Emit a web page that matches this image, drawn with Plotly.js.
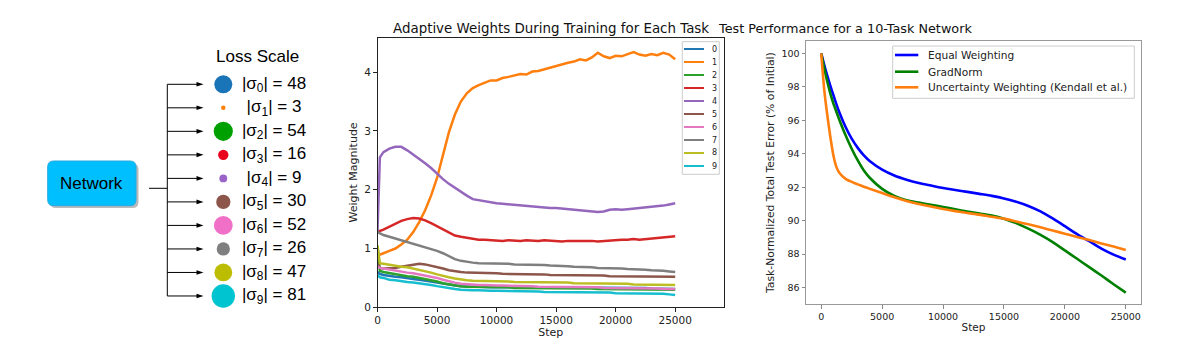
<!DOCTYPE html>
<html><head><meta charset="utf-8">
<script src="https://cdn.plot.ly/plotly-3.0.1.min.js"></script>
<style>html,body{margin:0;padding:0;background:#fff;}#chart{width:1204px;height:354px;}</style>
</head><body><div id="chart"></div>
<script>
// ---------- Left diagram data ----------
const taskIds = [0,1,2,3,4,5,6,7,8,9];
const lossScales = [48,3,54,16,9,30,52,26,47,81];
const taskColors = ['#1f77b4','#ff7f0e','#2ca02c','#d62728','#9467bd','#8c564b','#e377c2','#7f7f7f','#bcbd22','#17becf'];
const diagramColors = ['#1a74b8','#ff7f0e','#00a000','#e8001c','#9a63c8','#8c564b','#f070c8','#7f7f7f','#bcbd00','#00c4d0'];
const networkLabel = 'Network';
const lossScaleTitle = 'Loss Scale';

// ---------- Middle chart data ----------
const weightSteps = [0,200,500,1000,1500,2000,2500,3000,3500,4000,4500,5000,5500,6000,6500,7000,7500,8000,8500,9000,9500,10000,10500,11000,11500,12000,12500,13000,13500,14000,14500,15000,15500,16000,16500,17000,17500,18000,18500,19000,19500,20000,20500,21000,21500,22000,22500,23000,23500,24000,24500,25000];
const weight0 = [0.60,0.57,0.55,0.53,0.52,0.51,0.49,0.48,0.47,0.46,0.44,0.42,0.40,0.39,0.37,0.36,0.35,0.35,0.35,0.34,0.34,0.34,0.34,0.34,0.34,0.34,0.34,0.33,0.33,0.33,0.33,0.33,0.33,0.33,0.33,0.33,0.33,0.33,0.33,0.33,0.33,0.33,0.33,0.33,0.33,0.33,0.33,0.32,0.32,0.32,0.31,0.31];
const weight1 = [0.88,0.90,0.92,0.96,1.00,1.07,1.15,1.28,1.45,1.65,1.90,2.20,2.60,2.98,3.28,3.50,3.64,3.73,3.78,3.82,3.86,3.86,3.90,3.92,3.95,3.97,3.96,4.01,4.02,4.05,4.08,4.10,4.14,4.16,4.18,4.22,4.20,4.25,4.33,4.27,4.24,4.28,4.27,4.30,4.34,4.30,4.28,4.31,4.29,4.33,4.30,4.22];
const weight2 = [1.05,0.62,0.60,0.58,0.57,0.55,0.53,0.52,0.50,0.49,0.46,0.44,0.41,0.39,0.37,0.36,0.35,0.35,0.35,0.34,0.34,0.34,0.34,0.34,0.33,0.33,0.33,0.33,0.33,0.33,0.33,0.32,0.32,0.32,0.32,0.32,0.32,0.32,0.31,0.31,0.31,0.31,0.31,0.31,0.31,0.31,0.30,0.30,0.30,0.30,0.30,0.30];
const weight3 = [1.30,1.30,1.32,1.37,1.42,1.47,1.50,1.52,1.51,1.48,1.43,1.38,1.32,1.27,1.22,1.20,1.18,1.16,1.15,1.15,1.14,1.14,1.13,1.14,1.13,1.13,1.14,1.13,1.13,1.14,1.13,1.13,1.12,1.13,1.13,1.14,1.13,1.13,1.12,1.13,1.14,1.14,1.15,1.15,1.16,1.15,1.16,1.17,1.18,1.19,1.20,1.21];
const weight4 = [1.30,2.55,2.64,2.70,2.73,2.73,2.67,2.60,2.53,2.45,2.37,2.27,2.18,2.10,2.03,1.96,1.90,1.84,1.82,1.80,1.79,1.77,1.76,1.75,1.74,1.73,1.72,1.71,1.71,1.70,1.69,1.69,1.68,1.67,1.67,1.66,1.65,1.64,1.62,1.63,1.66,1.67,1.66,1.67,1.68,1.68,1.70,1.70,1.72,1.73,1.75,1.77];
const weight5 = [0.75,0.67,0.66,0.66,0.67,0.69,0.71,0.73,0.74,0.73,0.71,0.68,0.66,0.63,0.61,0.60,0.59,0.59,0.58,0.58,0.58,0.58,0.57,0.57,0.57,0.57,0.56,0.56,0.56,0.56,0.55,0.55,0.55,0.55,0.55,0.54,0.54,0.54,0.54,0.54,0.53,0.53,0.53,0.53,0.53,0.53,0.52,0.52,0.52,0.52,0.52,0.52];
const weight6 = [0.70,0.67,0.66,0.64,0.62,0.61,0.59,0.58,0.56,0.55,0.52,0.50,0.47,0.44,0.42,0.40,0.39,0.38,0.38,0.38,0.37,0.37,0.37,0.37,0.36,0.36,0.36,0.36,0.35,0.35,0.35,0.35,0.35,0.34,0.34,0.34,0.34,0.34,0.34,0.33,0.33,0.33,0.33,0.33,0.32,0.32,0.32,0.32,0.32,0.31,0.31,0.31];
const weight7 = [1.28,1.26,1.23,1.20,1.17,1.14,1.11,1.09,1.06,1.03,1.00,0.96,0.92,0.87,0.82,0.79,0.77,0.76,0.75,0.75,0.74,0.74,0.74,0.74,0.73,0.73,0.73,0.73,0.72,0.72,0.71,0.71,0.70,0.70,0.69,0.69,0.68,0.68,0.67,0.67,0.66,0.66,0.66,0.65,0.65,0.64,0.64,0.63,0.63,0.62,0.61,0.60];
const weight8 = [1.05,0.75,0.74,0.72,0.71,0.69,0.68,0.66,0.64,0.62,0.59,0.56,0.53,0.51,0.49,0.47,0.46,0.45,0.45,0.45,0.44,0.44,0.44,0.44,0.43,0.43,0.43,0.43,0.43,0.42,0.42,0.42,0.42,0.42,0.41,0.41,0.41,0.41,0.41,0.40,0.40,0.40,0.40,0.40,0.39,0.39,0.39,0.39,0.38,0.38,0.38,0.38];
const weight9 = [0.55,0.51,0.50,0.47,0.46,0.44,0.43,0.42,0.41,0.40,0.38,0.36,0.34,0.32,0.31,0.30,0.29,0.29,0.29,0.28,0.28,0.28,0.28,0.28,0.27,0.27,0.27,0.27,0.27,0.26,0.26,0.26,0.26,0.26,0.26,0.26,0.25,0.25,0.25,0.25,0.25,0.24,0.24,0.24,0.24,0.24,0.24,0.23,0.23,0.23,0.22,0.21];
const weightSeries = [weight0,weight1,weight2,weight3,weight4,weight5,weight6,weight7,weight8,weight9];
const taskNames = ['0','1','2','3','4','5','6','7','8','9'];
const weightTicksX = [0,5000,10000,15000,20000,25000];
const weightTicksY = [0,1,2,3,4];

// ---------- Right chart data ----------
const perfSteps = [0,250,500,750,1000,1250,1500,2000,2500,3000,3500,4000,5000,6000,7000,8000,9000,10000,11000,12000,13000,14000,15000,16000,17000,18000,19000,20000,21000,22000,23000,24000,25000];
const equalWeighting = [100,99.3,98.65,98.05,97.5,96.95,96.45,95.6,94.9,94.35,93.9,93.55,93.05,92.7,92.45,92.25,92.1,91.95,91.83,91.72,91.6,91.48,91.33,91.13,90.88,90.55,90.13,89.67,89.2,88.77,88.33,87.97,87.68];
const gradNorm = [100,99.1,98.3,97.6,97.0,96.5,96.0,95.1,94.3,93.6,93.0,92.55,91.9,91.48,91.22,91.08,90.95,90.82,90.68,90.54,90.42,90.3,90.12,89.85,89.52,89.15,88.72,88.22,87.72,87.22,86.72,86.2,85.7];
const uncertaintyWeighting = [100,97.8,96.3,95.0,93.9,93.2,92.85,92.5,92.32,92.17,92.03,91.9,91.65,91.4,91.18,91.0,90.85,90.7,90.57,90.46,90.36,90.23,90.12,89.95,89.78,89.6,89.41,89.22,89.03,88.84,88.64,88.45,88.24];
const perfNames = ['Equal Weighting','GradNorm','Uncertainty Weighting (Kendall et al.)'];
const perfColors = ['#0000ff','#008000','#ff7f0e'];
const perfSeries = [equalWeighting, gradNorm, uncertaintyWeighting];
const perfTicksX = [0,5000,10000,15000,20000,25000];
const perfTicksY = [86,88,90,92,94,96,98,100];

// ---------- layout helpers (pixel geometry -> paper) ----------
const W = 1204, H = 354;
const px = x => x / W;
const py = y => 1 - y / H;
const FONT = 'DejaVu Sans, sans-serif';
const ARIAL = 'Liberation Sans, Arial, sans-serif';
// diagram axis: x in pixel-like units, y in row units
const ROW0 = 84.3, ROWSTEP = 23.52;
const ry = y => (y - ROW0) / ROWSTEP;

const traces = [];
// middle chart
weightSeries.forEach((s, i) => {
  traces.push({x: weightSteps, y: s, type: 'scatter', mode: 'lines', name: taskNames[i],
    line: {color: taskColors[i], width: 2.5}, xaxis: 'x', yaxis: 'y', showlegend: false, hoverinfo: 'skip'});
});
// right chart
perfSeries.forEach((s, i) => {
  traces.push({x: perfSteps, y: s, type: 'scatter', mode: 'lines', name: perfNames[i],
    line: {color: perfColors[i], width: 2.6, shape: 'spline', smoothing: 0.6}, xaxis: 'x2', yaxis: 'y2', showlegend: false, hoverinfo: 'skip'});
});
// diagram circles
const CIRCLE_X = 223.3, LABEL_X = 274;
traces.push({x: taskIds.map(() => CIRCLE_X), y: taskIds, type: 'scatter', mode: 'markers',
  marker: {size: lossScales.map(s => 2.6 * Math.sqrt(s)), color: diagramColors, opacity: 1, line: {width: 0}},
  xaxis: 'x3', yaxis: 'y3', showlegend: false, hoverinfo: 'skip'});
traces.push({x: taskIds.map(() => LABEL_X), y: taskIds, type: 'scatter', mode: 'text',
  text: taskIds.map((t, i) => '|σ<sub>' + t + '</sub>| = ' + lossScales[i]),
  textposition: 'middle center', textfont: {family: ARIAL, size: 17, color: '#000'},
  xaxis: 'x3', yaxis: 'y3', showlegend: false, hoverinfo: 'skip'});

const shapes = [], annotations = [];
// diagram shapes
function rrect(x0, x1, y0, y1, r) {
  const rx = r, ryy = r / ROWSTEP;
  return `M ${x0+rx},${y0} L ${x1-rx},${y0} Q ${x1},${y0} ${x1},${y0+ryy} L ${x1},${y1-ryy} Q ${x1},${y1} ${x1-rx},${y1} L ${x0+rx},${y1} Q ${x0},${y1} ${x0},${y1-ryy} L ${x0},${y0+ryy} Q ${x0},${y0} ${x0+rx},${y0} Z`;
}
shapes.push({type: 'path', xref: 'x3', yref: 'y3', path: rrect(50, 138.5, ry(163.5), ry(208), 6), fillcolor: 'rgba(60,60,60,0.35)', line: {width: 0}});
shapes.push({type: 'path', xref: 'x3', yref: 'y3', path: rrect(47.7, 136, ry(161), ry(205.7), 6), fillcolor: '#00bfff', line: {color: '#27a9e0', width: 1}});
shapes.push({type: 'line', xref: 'x3', yref: 'y3', x0: 149, x1: 167.3, y0: ry(188.3), y1: ry(188.3), line: {color: '#000', width: 1}});
shapes.push({type: 'line', xref: 'x3', yref: 'y3', x0: 167.3, x1: 167.3, y0: taskIds[0], y1: taskIds[taskIds.length-1], line: {color: '#000', width: 1}});
const ARROW_TAIL = 167.3, ARROW_TIP = 203.5, HEAD_LEN = 7, HEAD_HALF = 2.3 / ROWSTEP;
taskIds.forEach(t => {
  shapes.push({type: 'line', xref: 'x3', yref: 'y3', x0: ARROW_TAIL, x1: ARROW_TIP - HEAD_LEN + 1, y0: t, y1: t, line: {color: '#000', width: 1}});
  shapes.push({type: 'path', xref: 'x3', yref: 'y3', path: `M ${ARROW_TIP},${t} L ${ARROW_TIP-HEAD_LEN},${t-HEAD_HALF} L ${ARROW_TIP-HEAD_LEN},${t+HEAD_HALF} Z`, fillcolor: '#000', line: {width: 0}});
});
annotations.push({xref: 'x3', yref: 'y3', x: 91.8, y: ry(183.4), text: networkLabel, showarrow: false, font: {family: ARIAL, size: 17, color: '#000'}});
annotations.push({xref: 'x3', yref: 'y3', x: 257, y: ry(56.7), text: lossScaleTitle, showarrow: false, font: {family: ARIAL, size: 17, color: '#000'}});

// titles
annotations.push({xref: 'paper', yref: 'paper', x: px(550.7), y: py(28), text: 'Adaptive Weights During Training for Each Task', showarrow: false, font: {family: FONT, size: 13.4, color: '#111'}, yanchor: 'middle'});
annotations.push({xref: 'paper', yref: 'paper', x: px(973.5), y: py(28), text: 'Test Performance for a 10-Task Network', showarrow: false, font: {family: FONT, size: 12.8, color: '#111'}, yanchor: 'middle'});

// middle legend (manual)
shapes.push({type: 'rect', xref: 'paper', yref: 'paper', x0: px(682.3), x1: px(719.3), y0: py(174.3), y1: py(41.7), fillcolor: 'rgba(255,255,255,0.85)', line: {color: '#cccccc', width: 1}});
taskNames.forEach((n, i) => {
  const yy = 49 + 13.0 * i;
  shapes.push({type: 'line', xref: 'paper', yref: 'paper', x0: px(684), x1: px(704), y0: py(yy), y1: py(yy), line: {color: taskColors[i], width: 2}});
  annotations.push({xref: 'paper', yref: 'paper', x: px(709.5), y: py(yy), xanchor: 'left', yanchor: 'middle', text: n, showarrow: false, font: {family: FONT, size: 8, color: '#222'}});
});
// right legend (manual)
shapes.push({type: 'rect', xref: 'paper', yref: 'paper', x0: px(892.7), x1: px(1134.3), y0: py(98.3), y1: py(46), fillcolor: 'rgba(255,255,255,0.85)', line: {color: '#cccccc', width: 1}});
perfNames.forEach((n, i) => {
  const yy = [55, 71.7, 87.3][i];
  shapes.push({type: 'line', xref: 'paper', yref: 'paper', x0: px(895), x1: px(918.3), y0: py(yy), y1: py(yy), line: {color: perfColors[i], width: 2.6}});
  annotations.push({xref: 'paper', yref: 'paper', x: px(926), y: py(yy), xanchor: 'left', yanchor: 'middle', text: n, showarrow: false, font: {family: FONT, size: 10.6, color: '#222'}});
});

const axisCommon = {showgrid: false, zeroline: false, showline: true, mirror: true, ticks: 'outside', ticklen: 3.5, tickwidth: 1};

const layout = {
  width: W, height: H, margin: {l: 0, r: 0, t: 0, b: 0}, paper_bgcolor: '#fff', plot_bgcolor: '#fff',
  showlegend: false,
  xaxis: Object.assign({}, axisCommon, {domain: [px(377.5), px(724)], range: [0, 29100], tickvals: weightTicksX, ticktext: weightTicksX.map(String),
    linecolor: '#222', tickcolor: '#222', tickfont: {family: FONT, size: 10.5, color: '#222'},
    title: {text: 'Step', font: {family: FONT, size: 11, color: '#222'}, standoff: 2}, anchor: 'y'}),
  yaxis: Object.assign({}, axisCommon, {domain: [py(307.3), py(37.5)], range: [0, 4.59], tickvals: weightTicksY, ticktext: weightTicksY.map(String),
    linecolor: '#222', tickcolor: '#222', tickfont: {family: FONT, size: 10.5, color: '#222'},
    title: {text: 'Weight Magnitude', font: {family: FONT, size: 11, color: '#222'}, standoff: 4}, anchor: 'x'}),
  xaxis2: Object.assign({}, axisCommon, {domain: [px(806), px(1141)], range: [-1250, 26250], tickvals: perfTicksX, ticktext: perfTicksX.map(String),
    linecolor: '#999', tickcolor: '#888', tickfont: {family: FONT, size: 9.5, color: '#222'},
    title: {text: 'Step', font: {family: FONT, size: 10.5, color: '#222'}, standoff: 2}, anchor: 'y2'}),
  yaxis2: Object.assign({}, axisCommon, {domain: [py(304.3), py(41)], range: [85.0, 100.74], tickvals: perfTicksY, ticktext: perfTicksY.map(String),
    linecolor: '#999', tickcolor: '#888', tickfont: {family: FONT, size: 9.5, color: '#222'},
    title: {text: 'Task-Normalized Total Test Error (% of Initial)', font: {family: FONT, size: 10.8, color: '#222'}, standoff: 4}, anchor: 'x2'}),
  xaxis3: {domain: [0, px(330)], range: [0, 330], visible: false, fixedrange: true, anchor: 'y3'},
  yaxis3: {domain: [0, 1], range: [ry(354), ry(0)], visible: false, fixedrange: true, anchor: 'x3'},
  shapes: shapes, annotations: annotations
};
Plotly.newPlot('chart', traces, layout, {displayModeBar: false, staticPlot: true});
</script></body></html>
